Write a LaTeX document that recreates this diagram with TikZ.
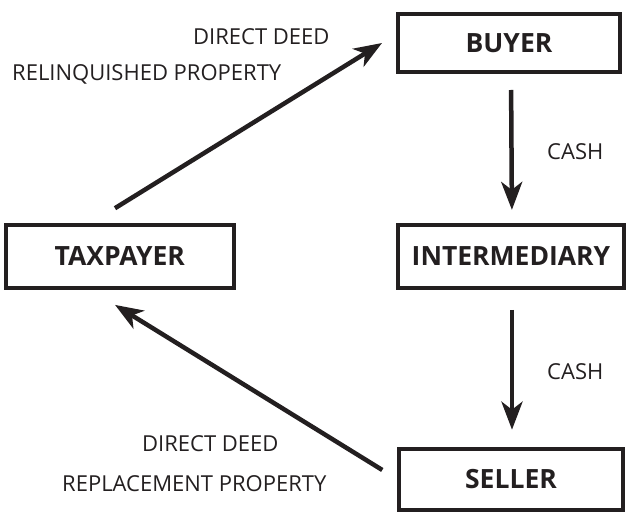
\documentclass[tikz,border=0pt]{standalone}
\usepackage{fontspec}
\setmainfont{Open Sans}
\usetikzlibrary{arrows.meta}
\definecolor{ink}{HTML}{231F20}
\begin{document}
\begin{tikzpicture}[x=1pt,y=-1pt,
  party/.style={draw=ink, line width=4pt, inner sep=0pt, font=\fontsize{26.5}{30}\selectfont\bfseries, text=ink},
  lbl/.style={inner sep=0pt, anchor=base west, font=\fontsize{22}{26}\selectfont, text=ink},
  flow/.style={draw=ink, line width=4.5pt, -{Stealth[length=28pt,width=21pt,inset=8pt]}}]
\useasboundingbox (0,0) rectangle (630,513);
\node[party, minimum width=222pt, minimum height=58pt] (buyer) at (509,43) {BUYER};
\node[party, minimum width=226pt, minimum height=63pt] (inter) at (511,256.4) {INTERMEDIARY};
\node[party, minimum width=224pt, minimum height=61pt] (seller) at (511,479.2) {SELLER};
\node[party, minimum width=227.7pt, minimum height=63pt] (tax) at (119.8,256.4) {TAXPAYER};
\draw[flow, shorten <=16pt, shorten >=13pt] ([xshift=2pt]buyer.south) -- ([xshift=1pt]inter.north);
\draw[flow, shorten <=20pt, shorten >=17pt] ([xshift=1pt]inter.south) -- ([xshift=1pt]seller.north);
\draw[flow] ([shift={(-4.8,-14.7)}]tax.north) -- ([shift={(-14,0)}]buyer.west);
\draw[flow] ([shift={(-14.7,-9.2)}]seller.west) -- ([shift={(-4.8,15)}]tax.south);
\node[lbl] (dd1) at (193,45) {DIRECT DEED};
\node[lbl] (rp1) at (12,81) {RELINQUISHED PROPERTY};
\node[lbl] (dd2) at (142,451.5) {DIRECT DEED};
\node[lbl] (rp2) at (62,491.5) {REPLACEMENT PROPERTY};
\node[lbl] (c1) at (547,160) {CASH};
\node[lbl] (c2) at (547,380) {CASH};
\end{tikzpicture}
\end{document}
